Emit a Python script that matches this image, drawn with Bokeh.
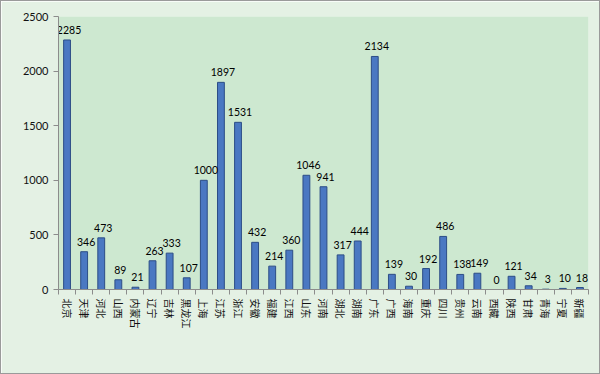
import math
from bokeh.plotting import figure
from bokeh.models import ColumnDataSource, FixedTicker, Range1d
from bokeh.core.properties import value
from bokeh.embed import file_html
from bokeh.resources import INLINE

provinces = ["北京", "天津", "河北", "山西", "内蒙古", "辽宁", "吉林", "黑龙江", "上海", "江苏",
             "浙江", "安徽", "福建", "江西", "山东", "河南", "湖北", "湖南", "广东", "广西",
             "海南", "重庆", "四川", "贵州", "云南", "西藏", "陕西", "甘肃", "青海", "宁夏", "新疆"]
counts = [2285, 346, 473, 89, 21, 263, 333, 107, 1000, 1897,
          1531, 432, 214, 360, 1046, 941, 317, 444, 2134, 139,
          30, 192, 486, 138, 149, 0, 121, 34, 3, 10, 18]
y_ticks = [0, 500, 1000, 1500, 2000, 2500]

idx = list(range(len(provinces)))
src = ColumnDataSource(dict(x=idx, top=counts, label=[str(c) for c in counts]))

p = figure(width=600, height=374, output_backend="svg", toolbar_location=None,
           x_range=Range1d(-0.5, len(provinces) - 0.5), y_range=Range1d(0, 2500),
           min_border_left=57, min_border_right=13, min_border_top=15, min_border_bottom=86)
p.background_fill_color = "#cde8d0"
p.border_fill_color = "#e4f1e4"
p.outline_line_color = None
p.styles = {"border": "1px solid #9a9a9a", "box-sizing": "border-box"}

p.vbar(x="x", top="top", width=0.4, bottom=0, source=src,
       fill_color="#4a78c2", line_color="#2c4d86", line_width=1)
p.text(x="x", y="top", text="label", source=src, text_align="center",
       text_baseline="bottom", y_offset=-6, x_offset=2, text_font=value("Lato"),
       text_font_size="10.5px", text_font_style="normal", text_color="#000000")

p.xgrid.grid_line_color = None
p.ygrid.grid_line_color = None

p.xaxis.ticker = FixedTicker(ticks=idx, minor_ticks=[i - 0.5 for i in idx] + [len(idx) - 0.5])
p.xaxis.major_label_overrides = {i: n for i, n in enumerate(provinces)}
p.xaxis.major_label_orientation = -math.pi / 2
p.xaxis.major_tick_out = 0
p.xaxis.major_tick_in = 0
p.xaxis.minor_tick_out = 5
p.xaxis.minor_tick_in = 0
p.xaxis.minor_tick_line_color = "#8c8c8c"
p.xaxis.axis_line_color = "#8c8c8c"
p.xaxis.major_label_text_font = "Noto Sans CJK SC"
p.xaxis.major_label_text_font_size = "10px"
p.xaxis.major_label_text_color = "#111111"
p.xaxis.major_label_standoff = 4

p.yaxis.ticker = FixedTicker(ticks=y_ticks, minor_ticks=[])
p.yaxis.major_tick_out = 5
p.yaxis.major_tick_in = 0
p.yaxis.major_tick_line_color = "#8c8c8c"
p.yaxis.axis_line_color = "#8c8c8c"
p.yaxis.major_label_text_font = "Lato"
p.yaxis.major_label_text_font_size = "11px"
p.yaxis.major_label_text_color = "#111111"
p.yaxis.major_label_standoff = 5

open("out.html", "w").write(file_html(p, INLINE))
